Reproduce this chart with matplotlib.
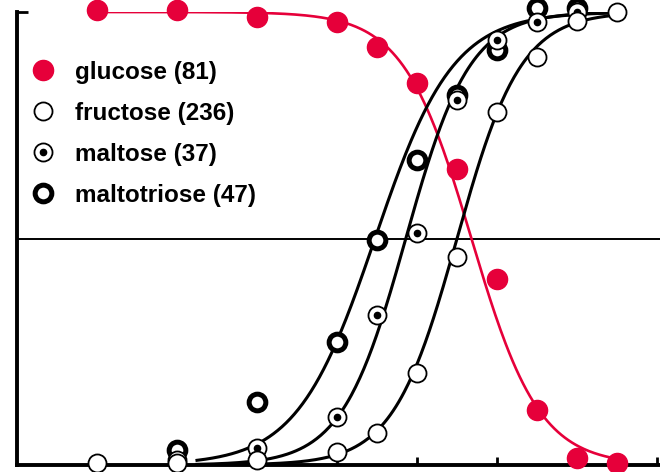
import numpy as np
import matplotlib.pyplot as plt
from matplotlib.lines import Line2D

# log concentration steps and % remaining / % taken up for each sugar
x_glc = [1, 2, 3, 4, 4.5, 5, 5.5, 6, 6.5, 7, 7.5]
y_glc = [100.5, 100.5, 99, 97.8, 92.2, 84.4, 65.3, 41.1, 12.2, 1.6, 0.4]

x_fru = [1, 2, 3, 4, 4.5, 5, 5.5, 6, 6.5, 7, 7.5]
y_fru = [0.4, 0.4, 1.1, 2.9, 7.1, 20.3, 45.9, 77.9, 90.0, 98.0, 100.0]

x_mal = [2, 3, 4, 4.5, 5, 5.5, 6, 6.5, 7]
y_mal = [1.0, 3.8, 10.6, 33.1, 51.2, 80.6, 93.8, 97.8, 100.0]

x_mtr = [2, 3, 4, 4.5, 5, 5.5, 6, 6.5, 7]
y_mtr = [3.3, 13.9, 27.2, 49.7, 67.3, 81.7, 91.6, 100.9, 100.9]

# fitted sigmoid parameters (midpoint, slope)
fit_glc = (5.68, -2.35)
fit_fru = (5.50, 2.5)
fit_mal = (4.86, 2.5)
fit_mtr = (4.475, 2.05)

labels = ["glucose (81)", "fructose (236)", "maltose (37)", "maltotriose (47)"]

red = "#E6003A"


def sigmoid(x, mid, k):
    return 100.0 / (1.0 + np.exp(-k * (x - mid)))


fig = plt.figure(figsize=(6.6, 4.72), dpi=100)
ax = fig.add_axes([17 / 660, 7 / 472, 643 / 660, 453 / 472])
ax.set_xlim(0, 643 / 80)
ax.set_ylim(0, 100)

xs_red = np.linspace(1, 7.5, 300)
xs_blk = np.linspace(2.25, 7.45, 300)

ax.axhline(50, color="black", lw=1.4, zorder=1)
ax.plot(xs_red, sigmoid(xs_red, *fit_glc), color=red, lw=1.9, zorder=2)
for p in (fit_fru, fit_mal, fit_mtr):
    ax.plot(xs_blk, sigmoid(xs_blk, *p), color="black", lw=2.2, zorder=2)

# markers: white-filled so the curves pass behind them
ms = 13
ax.plot(x_mtr, y_mtr, "o", ms=12, mfc="white", mec="black", mew=3.6,
        zorder=3, clip_on=False)
ax.plot(x_mal, y_mal, "o", ms=ms, mfc="white", mec="black", mew=1.3,
        zorder=4, clip_on=False)
ax.plot(x_mal, y_mal, "o", ms=4.5, color="black", zorder=5, clip_on=False)
ax.plot(x_fru, y_fru, "o", ms=ms, mfc="white", mec="black", mew=1.3,
        zorder=6, clip_on=False)
ax.plot(x_glc, y_glc, "o", ms=14.5, color=red, zorder=7, clip_on=False)

# legend
h_glc = Line2D([], [], ls="none", marker="o", ms=14.5, color=red)
h_fru = Line2D([], [], ls="none", marker="o", ms=ms, mfc="white", mec="black", mew=1.3)
h_mal = (Line2D([], [], ls="none", marker="o", ms=ms, mfc="white", mec="black", mew=1.3),
         Line2D([], [], ls="none", marker="o", ms=4.5, color="black"))
h_mtr = Line2D([], [], ls="none", marker="o", ms=12, mfc="white", mec="black", mew=3.6)
ax.legend([h_glc, h_fru, h_mal, h_mtr], labels, loc="upper left",
          bbox_to_anchor=(31 / 660, 411 / 472), bbox_transform=fig.transFigure,
          frameon=False, handlelength=1.0, handletextpad=0.8,
          labelspacing=0.74, borderaxespad=0, borderpad=0,
          prop={"family": "Liberation Sans", "weight": "bold", "size": 17.5})

for side in ("top", "right"):
    ax.spines[side].set_visible(False)
for side in ("left", "bottom"):
    ax.spines[side].set_linewidth(2.8)

ax.set_xticks(range(1, 9))
ax.set_yticks([100])
ax.tick_params(axis="x", direction="in", length=6, width=2, labelbottom=False)
ax.tick_params(axis="y", direction="in", length=8, width=2, labelleft=False)

fig.savefig("out.png", dpi=100)
